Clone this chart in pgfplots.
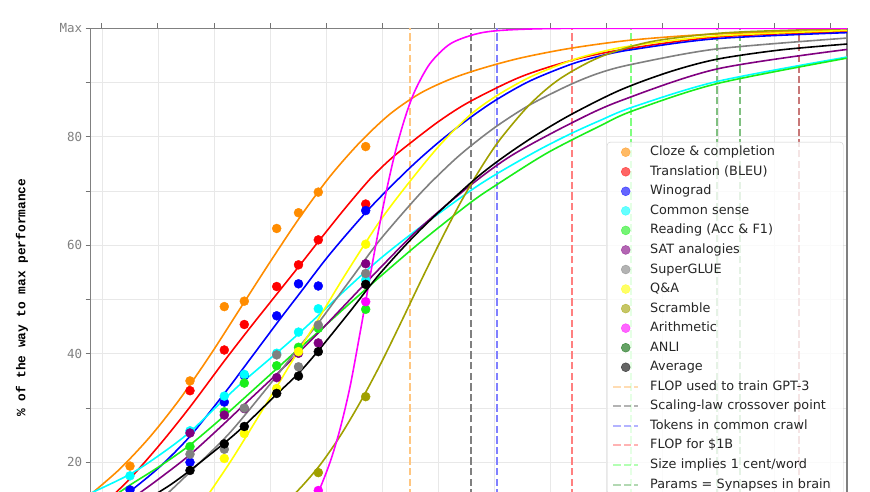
\documentclass[border=0pt]{standalone}
\usepackage{fontspec}
\setmainfont{DejaVu Sans}
\newfontfamily\ylabfont{Liberation Mono}
\newfontfamily\tickfont{DejaVu Sans Mono}
\usepackage{pgfplots}
\pgfplotsset{compat=1.18}
\definecolor{cOrange}{HTML}{FF8C00}
\definecolor{cRed}{HTML}{FF0000}
\definecolor{cBlue}{HTML}{0000FF}
\definecolor{cCyan}{HTML}{00FFFF}
\definecolor{cGreen}{HTML}{1AEE1A}
\definecolor{cPurple}{HTML}{800080}
\definecolor{cGray}{HTML}{808080}
\definecolor{cYellow}{HTML}{FFFF00}
\definecolor{cOlive}{HTML}{A0A000}
\definecolor{cMagenta}{HTML}{FF00FF}
\definecolor{cANLI}{HTML}{006400}
\definecolor{dGPT}{HTML}{FFC680}
\definecolor{dScal}{HTML}{808080}
\definecolor{dTok}{HTML}{8080FF}
\definecolor{dFlop}{HTML}{FF8080}
\definecolor{dCent}{HTML}{80FF80}
\definecolor{dSyn}{HTML}{80C080}
\definecolor{dBrown}{HTML}{C87878}
\tikzset{vdash/.style={dash pattern=on 7.4pt off 3.2pt, line width=2pt}}
\begin{document}
\begin{tikzpicture}
\begin{axis}[
  scale only axis,
  width=756.3pt, height=542.5pt,
  xmin=90.7, xmax=847, ymin=0, ymax=100,
  xtick={102,158,...,830},
  xticklabels={},
  ytick={0,10,...,100},
  yticklabels={{},{},20,{},40,{},60,{},80,{},Max},
  tick align=outside,
  xtick pos=both, ytick pos=left,
  major tick length=5pt,
  tick style={draw=black!55, line width=1pt},
  axis line style={draw=black!50, line width=1.3pt},
  grid=major,
  major grid style={draw=black!9, line width=0.8pt},
  yticklabel style={font=\tickfont\fontsize{12.5}{14}\selectfont, text=black!50},
  /pgf/number format/assume math mode=true,
  ylabel={\% of the way to max performance},
  ylabel style={font=\ylabfont\bfseries\fontsize{12.8}{15}\selectfont, at={(axis description cs:-0.0908,0.503)}, anchor=center},
  legend cell align=left,
  legend style={at={(axis description cs:0.6827,0.7904)}, anchor=north west,
    inner xsep=5pt, inner ysep=3.5pt, row sep=6.55pt,
    draw=black!20, rounded corners=3pt, fill=white, fill opacity=0.8, text opacity=1,
    font=\fontsize{12.8}{15}\selectfont, text=black!85,
    nodes={inner xsep=0pt, inner ysep=0pt, text height=10pt, text depth=3pt, text width=188pt, align=left}},
  legend image code/.code={\draw[mark repeat=2,mark phase=2,#1] plot coordinates {(0pt,0pt) (12.5pt,0pt) (25pt,0pt)}; \path (36pt,0pt);},
  legend image post style={opacity=0.6},
  scat/.style={only marks, mark=*, mark size=4.5pt, draw=#1, fill=#1},
  crv/.style={no marks, smooth, line width=1.6pt, draw=#1, forget plot},
]
% vertical dashed lines
\addplot[vdash, draw=dGPT, forget plot] coordinates {(410,0) (410,100)};
\addplot[vdash, draw=dScal, forget plot] coordinates {(470.7,0) (470.7,100)};
\addplot[vdash, draw=dTok, forget plot] coordinates {(497.3,0) (497.3,100)};
\addplot[vdash, draw=dFlop, forget plot] coordinates {(572.3,0) (572.3,100)};
\addplot[vdash, draw=dCent, forget plot] coordinates {(631,0) (631,100)};
\addplot[vdash, draw=dSyn, forget plot] coordinates {(717.3,0) (717.3,100)};
\addplot[vdash, draw=dSyn, forget plot] coordinates {(740,0) (740,100)};
\addplot[vdash, draw=dBrown, forget plot] coordinates {(799.3,0) (799.3,100)};
% fitted curves
\addplot[crv=cOrange] coordinates {(90.7,14.1) (120,18.8) (150,24.7) (180,31.7) (210,39.7) (240,48.3) (270,56.9) (300,65.2) (330,72.7) (360,79.0) (390,84.2) (420,88.0) (450,90.6) (480,92.5) (520,94.5) (570,96.3) (630,97.8) (700,98.8) (770,99.3) (847,99.6)};
\addplot[crv=cRed] coordinates {(105,12.5) (130,17.0) (160,23.3) (190,30.2) (224,38.6) (250,44.8) (272,49.9) (298,55.9) (318,60.6) (345,66.8) (370,72.2) (390,75.8) (410,78.8) (440,83.0) (470,86.5) (520,91.0) (570,94.0) (620,96.0) (717,98.4) (847,99.4)};
\addplot[crv=cBlue] coordinates {(115,12.2) (130,14.6) (160,19.2) (190,24.8) (224,32.6) (250,39.0) (280,46.4) (300,51.2) (330,58.4) (370,66.9) (410,74.3) (440,79.2) (470,83.5) (497,86.9) (530,90.3) (570,93.3) (600,94.9) (633,96.1) (717,98.1) (847,99.2)};
\addplot[crv=cCyan] coordinates {(90.7,14.3) (130,17.8) (160,21.4) (190,25.6) (224,31.6) (244,35.0) (277,40.2) (298,43.6) (318,47.0) (345,51.7) (380,57.5) (420,63.3) (470,70.0) (497,73.2) (537,77.4) (570,80.5) (600,83.0) (633,85.5) (717,90.2) (847,94.7)};
\addplot[crv=cGreen] coordinates {(100,12.0) (130,15.8) (160,19.3) (190,23.2) (224,28.5) (244,31.8) (277,37.3) (298,40.8) (318,44.0) (345,48.5) (380,54.2) (420,60.5) (470,67.8) (497,71.2) (547,77.0) (600,82.0) (633,84.8) (717,89.8) (847,94.5)};
\addplot[crv=cPurple] coordinates {(120,11.8) (140,14.4) (160,17.1) (190,21.4) (224,27.1) (244,30.6) (277,36.3) (298,40.1) (318,43.8) (350,50.0) (380,55.8) (420,63.2) (470,71.0) (512,76.6) (570,82.4) (620,86.6) (717,92.5) (847,96.1)};
\addplot[crv=cGray] coordinates {(160,13.0) (173,15.2) (190,18.2) (224,24.3) (244,28.5) (277,36.0) (298,41.0) (318,45.6) (353,54.3) (380,61.0) (420,69.5) (450,75.0) (470,78.2) (497,82.0) (530,85.9) (570,89.6) (600,91.8) (633,93.4) (717,96.2) (847,98.2)};
\addplot[crv=cYellow] coordinates {(200,11.8) (210,14.5) (230,20.0) (244,24.1) (260,28.9) (277,34.0) (290,38.0) (317,46.0) (345,54.5) (380,64.5) (410,71.8) (440,78.5) (470,84.0) (497,87.6) (530,91.0) (570,94.0) (600,95.6) (633,96.8) (717,98.6) (847,99.6)};
\addplot[crv=cOlive] coordinates {(280,11.6) (300,15.2) (320,19.5) (340,24.8) (360,31.0) (380,37.9) (400,45.4) (420,53.1) (440,60.6) (460,67.7) (480,74.0) (500,79.5) (530,86.0) (560,90.7) (600,94.7) (650,97.5) (720,99.1) (800,99.7) (847,99.9)};
\addplot[crv=cMagenta] coordinates {(300,8.0) (318,14.4) (330,20.0) (340,26.1) (350,33.9) (360,43.8) (366,50.0) (375,59.3) (385,68.8) (395,77.0) (405,83.5) (415,88.5) (430,93.5) (450,97.1) (475,98.9) (500,99.6) (550,99.95) (650,100) (847,100)};
\addplot[crv=black] coordinates {(150,13.5) (170,15.8) (190,18.5) (224,23.5) (244,26.7) (277,32.6) (298,36.3) (318,40.5) (350,47.8) (380,54.8) (420,62.8) (470,71.4) (497,75.4) (530,79.6) (570,84.0) (620,88.6) (670,92.0) (717,94.3) (780,96.0) (847,97.1)};
% scatter points
\addplot[scat=cOrange] coordinates {(130,19.3) (190,35.0) (224.3,48.7) (244.3,49.7) (276.7,63.1) (298.5,66.0) (318.3,69.8) (365.7,78.2)};
\addlegendentry{Cloze \& completion}
\addplot[scat=cRed] coordinates {(190,33.2) (224.3,40.7) (244.3,45.4) (276.7,52.4) (298.5,56.4) (318.3,61.0) (365.7,67.6)};
\addlegendentry{Translation (BLEU)}
\addplot[scat=cBlue] coordinates {(130,14.9) (190,20.0) (224.3,31.1) (244.3,36.0) (276.7,47.0) (298.5,52.9) (318.3,52.5) (365.7,66.4)};
\addlegendentry{Winograd}
\addplot[scat=cCyan] coordinates {(130,17.5) (190,25.8) (224.3,32.2) (244.3,36.2) (276.7,40.1) (298.5,44.0) (318.3,48.3) (365.7,53.6)};
\addlegendentry{Common sense}
\addplot[scat=cGreen] coordinates {(190,22.9) (224.3,29.3) (244.3,34.6) (276.7,37.8) (298.5,41.2) (318.3,44.7) (365.7,48.2)};
\addlegendentry{Reading (Acc \& F1)}
\addplot[scat=cPurple] coordinates {(190,25.4) (224.3,28.7) (244.3,29.9) (276.7,35.6) (298.5,40.1) (318.3,42.0) (365.7,56.6)};
\addlegendentry{SAT analogies}
\addplot[scat=cGray] coordinates {(190,21.5) (224.3,22.4) (244.3,30.0) (276.7,39.8) (298.5,37.6) (318.3,45.3) (365.7,54.8)};
\addlegendentry{SuperGLUE}
\addplot[scat=cYellow] coordinates {(190,12.0) (224.3,20.7) (244.3,25.3) (276.7,33.6) (298.5,40.4) (365.7,60.2)};
\addlegendentry{Q\&A}
\addplot[scat=cOlive] coordinates {(276.7,8.0) (298.5,11.0) (318.3,18.1) (365.7,32.1)};
\addlegendentry{Scramble}
\addplot[scat=cMagenta] coordinates {(298.5,5.0) (318.3,14.8) (365.7,49.6)};
\addlegendentry{Arithmetic}
\addplot[scat=cANLI] coordinates {(190,3.0) (244.3,4.0) (298.5,6.0) (365.7,8.0)};
\addlegendentry{ANLI}
\addplot[scat=black] coordinates {(190,18.5) (224.3,23.4) (244.3,26.6) (276.7,32.7) (298.5,35.9) (318.3,40.4) (365.7,52.8)};
\addlegendentry{Average}
\addlegendimage{vdash, draw=dGPT}
\addlegendentry{FLOP used to train GPT-3}
\addlegendimage{vdash, draw=dScal}
\addlegendentry{Scaling-law crossover point}
\addlegendimage{vdash, draw=dTok}
\addlegendentry{Tokens in common crawl}
\addlegendimage{vdash, draw=dFlop}
\addlegendentry{FLOP for \$1B}
\addlegendimage{vdash, draw=dCent}
\addlegendentry{Size implies 1 cent/word}
\addlegendimage{vdash, draw=dSyn}
\addlegendentry{Params = Synapses in brain}
\coordinate (tl) at (rel axis cs:0,1);
\end{axis}
\pgfresetboundingbox
\path[use as bounding box] ([shift={(-90.7pt,28.3pt)}]tl) rectangle ([shift={(779.3pt,-463.7pt)}]tl);
\end{tikzpicture}
\end{document}
